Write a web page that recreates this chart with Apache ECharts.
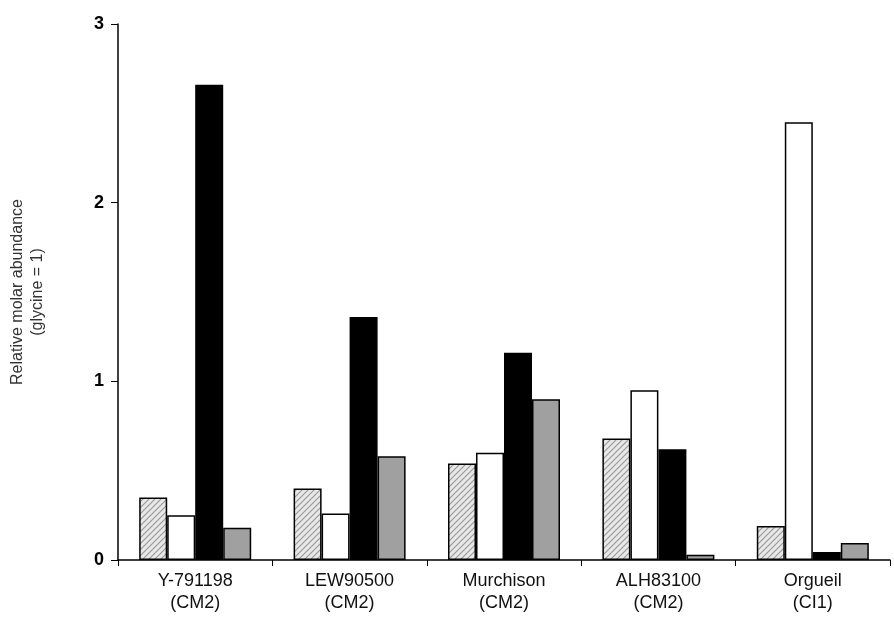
<!DOCTYPE html>
<html>
<head>
<meta charset="UTF-8">
<script src="https://cdn.jsdelivr.net/npm/echarts@6/dist/echarts.min.js"></script>
</head>
<body style="margin:0;background:#fff">
<div id="chart" style="width:894px;height:635px;"></div>
<script>
    const categories = ['Y-791198\n(CM2)', 'LEW90500\n(CM2)', 'Murchison\n(CM2)', 'ALH83100\n(CM2)', 'Orgueil\n(CI1)'];
    const hatched = [0.35, 0.40, 0.54, 0.68, 0.19];
    const white = [0.25, 0.26, 0.60, 0.95, 2.45];
    const black = [2.66, 1.36, 1.16, 0.62, 0.045];
    const grey = [0.18, 0.58, 0.90, 0.03, 0.095];

    // diagonal hatch pattern
    const pc = document.createElement('canvas');
    pc.width = 6; pc.height = 6;
    const g = pc.getContext('2d');
    g.fillStyle = '#e8e8e8'; g.fillRect(0, 0, 6, 6);
    g.strokeStyle = '#9a9a9a'; g.lineWidth = 1.2;
    g.beginPath(); g.moveTo(0, 6); g.lineTo(6, 0); g.moveTo(-3, 3); g.lineTo(3, -3); g.moveTo(3, 9); g.lineTo(9, 3); g.stroke();

    const chart = echarts.init(document.getElementById('chart'));
    const bar = (data, color) => ({
        type: 'bar', data, barWidth: 28, barGap: '0%',
        itemStyle: { color, borderColor: '#000', borderWidth: 1.5 }
    });
    chart.setOption({
        animation: false,
        grid: { left: 116, right: 4, top: 24, bottom: 75 },
        xAxis: {
            type: 'category', data: categories,
            axisLine: { lineStyle: { color: '#000', width: 1.5 } },
            axisTick: { show: true, length: 6, lineStyle: { color: '#000' } },
            axisLabel: { color: '#111', fontSize: 18, fontFamily: 'Liberation Sans', lineHeight: 22, margin: 10 }
        },
        yAxis: {
            type: 'value', min: 0, max: 3, interval: 1,
            name: 'Relative molar abundance\n(glycine = 1)', nameLocation: 'middle', nameGap: 70,
            nameTextStyle: { color: '#333', fontSize: 16, fontFamily: 'Liberation Sans', lineHeight: 20 },
            axisLine: { show: true, lineStyle: { color: '#000', width: 1.5 } },
            axisTick: { show: true, length: 7, lineStyle: { color: '#000' } },
            splitLine: { show: false },
            axisLabel: { color: '#000', fontSize: 18, fontWeight: 'bold', fontFamily: 'Liberation Sans', margin: 14 }
        },
        series: [
            bar(hatched, { image: pc, repeat: 'repeat' }),
            bar(white, '#fff'),
            bar(black, '#000'),
            bar(grey, '#a0a0a0')
        ]
    });
</script>
</body>
</html>
